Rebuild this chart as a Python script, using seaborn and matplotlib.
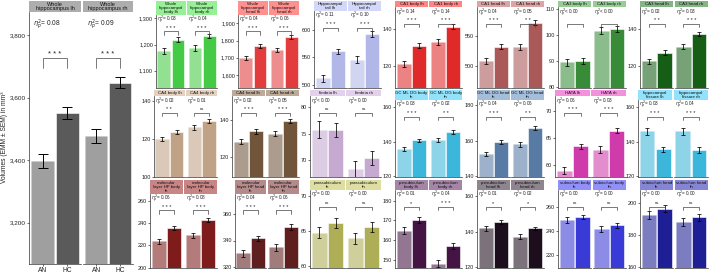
import numpy as np
import pandas as pd
import matplotlib
matplotlib.use("Agg")
import matplotlib.pyplot as plt
import seaborn as sns
from matplotlib.transforms import blended_transform_factory
from matplotlib.colors import to_rgb

# ---------------- data ----------------
regions = ["Whole\nhippocampus ", "Whole\nhippocampal\nbody", "Whole\nhippocampal\nhead ",
           "Hippocampal\ntail ", "CA1 body", "CA1 head", "CA3 body", "CA3 head",
           "CA4 body", "CA4 head", "fimbria", "GC ML DG body\n", "GC ML DG head\n", "HATA",
           "hippocampal\nfissure ",
           "molecular\nlayer HP body\n", "molecular\nlayer HP head\n", "parasubiculum\n",
           "presubiculum\nbody ", "presubiculum\nhead ", "subiculum body\n", "subiculum head\n"]
hemis = ["lh", "rh"]
groups = ["AN", "HC"]

an_lh = [3397, 1175, 1700, 512, 120.8, 508, 89.6, 122.5, 119.8, 128.3, 75.7, 135.7, 152.5, 59.0, 146.0,
         223.6, 330.3, 64.8, 164.8, 141.9, 249.0, 192.5]
hc_lh = [3551, 1219, 1770, 561, 131.0, 531.5, 90.0, 127.3, 123.5, 133.7, 75.7, 140.8, 159.4, 63.5, 135.7,
         235.5, 341.7, 66.2, 170.2, 145.6, 251.8, 196.5]
an_rh = [3477, 1187, 1745, 546, 133.0, 531.5, 101.8, 130.5, 126.0, 132.4, 68.2, 141.0, 158.0, 62.9, 146.0,
         229.0, 335.0, 64.0, 148.0, 137.2, 242.0, 188.0]
hc_rh = [3647, 1232, 1820, 593, 141.4, 572.0, 102.5, 137.3, 129.3, 139.5, 70.3, 145.6, 167.3, 66.4, 135.2,
         243.3, 350.0, 65.6, 156.8, 141.9, 244.7, 191.0]
se_an = [22, 10, 13, 6, 1.6, 5, 1.4, 1.5, 1.2, 1.3, 1.6, 1.2, 1.3, 0.6, 2.0, 2.0, 2.5, 0.8, 1.8, 1.3, 2.5, 2.5]
se_hc = [18, 8, 11, 5, 1.3, 4, 1.2, 1.2, 1.0, 1.1, 1.3, 1.0, 1.1, 0.5, 1.5, 1.8, 2.0, 0.7, 1.5, 1.0, 2.0, 2.2]

eta_lh = ["= 0.08", "= 0.03", "= 0.04", "= 0.11", "= 0.14", "= 0.04", "< 0.00", "= 0.02",
          "= 0.02", "= 0.02", "< 0.00", "= 0.03", "= 0.04", "= 0.06", "= 0.03",
          "= 0.06", "= 0.04", "= 0.00", "= 0.01", "= 0.01", "= 0.00", "= 0.00"]
eta_rh = ["= 0.09", "= 0.04", "= 0.06", "= 0.10", "= 0.14", "= 0.05", "< 0.00", "= 0.03",
          "= 0.01", "= 0.05", "= 0.00", "= 0.02", "= 0.06", "= 0.03", "= 0.04",
          "= 0.08", "= 0.06", "= 0.00", "= 0.04", "= 0.02", "= 0.00", "= 0.00"]
sig_lh = ["***", "***", "***", "***", "***", "***", "", "**",
          "**", "***", "ns", "***", "***", "***", "***",
          "***", "***", "ns", "*", "*", "ns", "ns"]
sig_rh = ["***", "***", "***", "***", "***", "**", "", "***",
          "ns", "***", "ns", "**", "**", "***", "***",
          "***", "***", "ns", "***", "*", "ns", "ns"]

yticks = [[3200, 3400, 3600, 3800], [1100, 1200, 1300], [1600, 1700, 1800, 1900], [500, 550, 600],
          [120, 140], [500, 550], [80, 90, 100, 110], [120, 140],
          [100, 120, 140], [120, 140], [70, 75, 80], [120, 140, 160], [140, 160, 180], [60, 65, 70],
          [120, 140, 160],
          [200, 220, 240, 260], [320, 340, 360], [60, 65, 70], [150, 160, 170, 180], [120, 140, 160],
          [220, 240, 260], [160, 180, 200]]

colors = ["#5a5a5a", "#2ee02e", "#ff2020", "#a8b0f0", "#ff0a0a", "#b84a4a", "#2a9a2a", "#0a6a0a",
          "#c9a27e", "#7a5432", "#c8a2d8", "#22c4f4", "#4a7ab2", "#e822b8", "#22c4f4",
          "#8e0c0c", "#6a1414", "#bcbc48", "#4c0c4c", "#1e0c1e", "#2020f0", "#0c0ca8"]

# ---------------- layout (pixels) ----------------
W, H = 709, 273
# (tick value high, its pixel y, tick value low, its pixel y) for each panel's y-scale
anchors = [(3800, 35, 3200, 222.7), (1300, 18.3, 1100, 70.7), (1900, 23.3, 1600, 75),
           (600, 30, 500, 85), (140, 29.3, 120, 65.7), (550, 35.7, 500, 65.7), (110, 9.3, 80, 87.3),
           (140, 29.3, 120, 66),
           (140, 100.7, 100, 176.7), (140, 119.7, 120, 157), (80, 107.3, 70, 159.7),
           (160, 107.3, 120, 176.3), (180, 105.3, 140, 176.3), (70, 111.3, 60, 165.3),
           (160, 107.3, 120, 176.3),
           (260, 201, 200, 267.7), (360, 213.7, 320, 267.3), (70, 196.3, 60, 266.3),
           (180, 200.7, 150, 259.7), (160, 196.3, 120, 267.3), (260, 207.3, 220, 254.7),
           (200, 203, 160, 267.3)]
lefts = [[156, 238, 314, 395, 477, 558, 640],
         [154, 232, 310, 395, 477, 555, 638],
         [150, 235, 310, 395, 477, 558, 640]]
rights = [217, 299, 381, 462, 544, 626, 708]
row_top = [1, 90, 180]
row_bot = [88, 177, 268]

sns.set_theme(style="white")
plt.rcParams['font.family'] = ['Liberation Sans', 'DejaVu Sans']
plt.rcParams['mathtext.fontset'] = 'dejavusans'
plt.rcParams['hatch.linewidth'] = 0.5

fig = plt.figure(figsize=(W / 100, H / 100), dpi=100)
fig.patch.set_facecolor("white")


def px_axes(x0, y0, x1, y1):
    return fig.add_axes([x0 / W, 1 - y1 / H, (x1 - x0) / W, (y1 - y0) / H])


def lighten(c, f=0.5):
    r, g, b = to_rgb(c)
    return (r + (1 - r) * f, g + (1 - g) * f, b + (1 - b) * f)


for k in range(len(regions)):
    big = (k == 0)
    if big:
        facets = [(29, 81), (83, 133)]
        s_top, bot = 1, 264
        s_h = 11
    else:
        r, c = divmod(k - 1, 7)
        L, R = lefts[r][c], rights[c]
        fw = (R - L - 1.5) / 2
        facets = [(L, L + fw), (L + fw + 1.5, R)]
        s_top, bot = row_top[r], row_bot[r]
        nl = max((regions[k] + " lh").count("\n") + 1, 1)
        s_h = 2.5 + 3.8 * nl
    a_top = s_top + s_h
    hv, hp, lv, lp = anchors[k]
    ppu = (lp - hp) / (hv - lv)
    ytop = hv + (hp - a_top) / ppu
    ybot = lv - (bot - lp) / ppu
    col = colors[k]
    vals = [(an_lh[k], hc_lh[k], eta_lh[k], sig_lh[k]), (an_rh[k], hc_rh[k], eta_rh[k], sig_rh[k])]
    for j, ((x0, x1), hemi) in enumerate(zip(facets, hemis)):
        an, hc, eta, sig = vals[j]
        # strip
        sax = px_axes(x0, s_top, x1, a_top)
        sax.set_facecolor(lighten(col, 0.5))
        sax.set_xticks([]); sax.set_yticks([])
        for sp in sax.spines.values():
            sp.set_visible(False)
        reg = regions[k]
        lab = reg + hemi if (reg.endswith("\n") or reg.endswith(" ")) else reg + " " + hemi
        sax.text(0.5, 0.5, lab, ha="center", va="center", fontsize=4.0 if big else 3.2,
                 linespacing=0.92, color="#111111", transform=sax.transAxes)
        # panel
        ax = px_axes(x0, a_top, x1, bot)
        df = pd.DataFrame({"group": groups, "volume": [an, hc]})
        sns.barplot(data=df, x="group", y="volume", hue="group", palette=[col, col], ax=ax,
                    width=0.9, errorbar=None, legend=False, edgecolor="white", linewidth=0.4)
        for p in ax.patches:
            if p.get_x() + p.get_width() / 2 < 0.5:
                p.set_edgecolor((1, 1, 1, 0.42))
                p.set_hatch("x" * (22 if big else 24))
        ax.errorbar([0, 1], [an, hc], yerr=[se_an[k], se_hc[k]], fmt="none", ecolor="black",
                    elinewidth=0.7 if big else 0.55, capsize=3.6 if big else 1.3,
                    capthick=0.7 if big else 0.55)
        ax.set_xlim(-0.55, 1.55)
        ax.set_ylim(ybot, ytop)
        ax.set_xlabel(""); ax.set_ylabel("")
        ax.set_facecolor("white")
        for side in ["top", "right"]:
            ax.spines[side].set_visible(False)
        ax.spines["bottom"].set_linewidth(0.5)
        ax.spines["bottom"].set_color("#333333")
        ax.spines["left"].set_linewidth(0.5)
        ax.spines["left"].set_color("#333333")
        ax.set_yticks(yticks[k])
        if j == 0:
            ax.set_yticklabels([f"{v:,}" for v in yticks[k]])
            ax.tick_params(axis="y", length=1.5, width=0.5, pad=0.6,
                           labelsize=4.6 if big else 4.0, left=True, colors="#333333",
                           labelcolor="#222222")
        else:
            ax.spines["left"].set_visible(False)
            ax.tick_params(axis="y", left=False, labelleft=False)
        if big:
            ax.set_xticks([0, 1])
            ax.set_xticklabels(groups)
            ax.tick_params(axis="x", length=1.5, width=0.5, pad=0.8, labelsize=4.8,
                           bottom=True, colors="#333333", labelcolor="#222222")
        else:
            ax.tick_params(axis="x", bottom=False, labelbottom=False)
        # annotations
        hgt = bot - a_top
        if big:
            eo, so, no, bo, bl, efs, sfs = 13, 42.5, 40, 46, 10, 4.8, 5.5
        else:
            eo, so, no, bo, bl, efs, sfs = 5.2, 13.2, 12.6, 16.5, 3.2, 3.3, 4.0
        tr = blended_transform_factory(ax.transData, ax.transAxes)
        ax.text(0.08 if big else 0.04, 1 - eo / hgt, r"$\eta^2_p$" + eta, transform=ax.transAxes,
                ha="left", va="center", fontsize=efs, color="#222222")
        yb = 1 - bo / hgt
        ax.plot([0, 0, 1, 1], [yb - bl / hgt, yb, yb, yb - bl / hgt], transform=tr,
                color="#444444", lw=0.5, clip_on=False)
        if sig:
            if sig == "ns":
                ax.text(0.5, 1 - no / hgt, "ns", transform=tr, ha="center", va="center",
                        fontsize=efs - 0.2, color="#222222")
            else:
                ax.text(0.5, 1 - so / hgt, " ".join(sig), transform=tr, ha="center",
                        va="center", fontsize=sfs, color="#222222")

fig.text(5 / W, 1 - 137 / H, "Volumes (EMM ± SEM) in mm³", rotation=90, ha="center", va="center",
         fontsize=4.8, color="#222222")

fig.savefig("out.png", dpi=100, facecolor="white")
